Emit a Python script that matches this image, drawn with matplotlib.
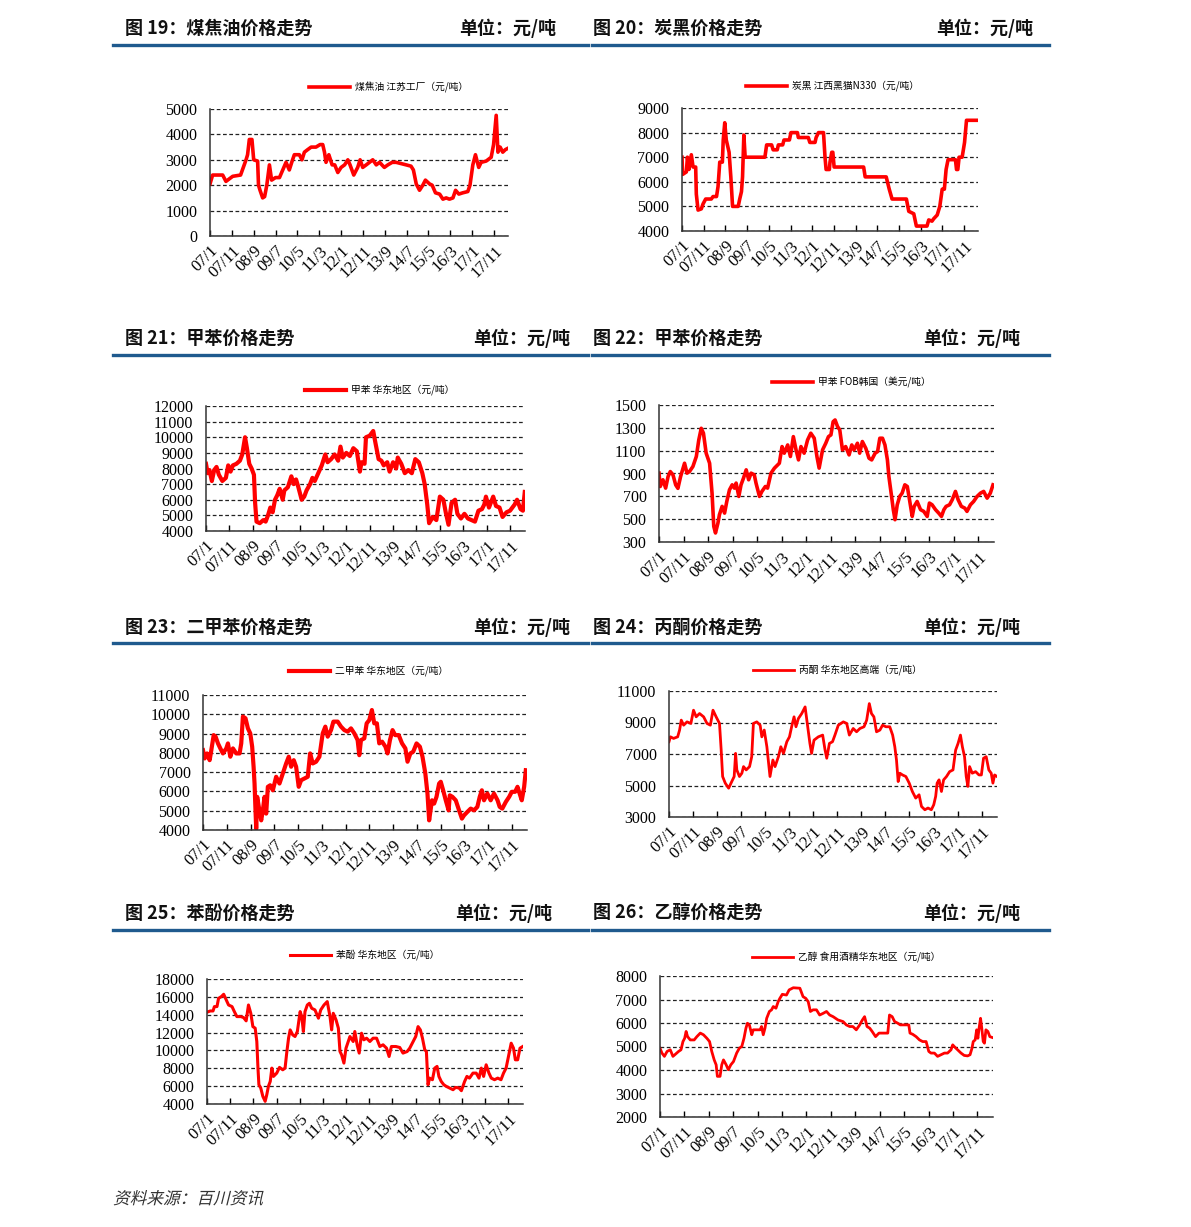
import matplotlib
matplotlib.use('Agg')
import matplotlib.pyplot as plt
from matplotlib.lines import Line2D
from matplotlib.font_manager import FontProperties
from matplotlib.textpath import TextPath
from matplotlib.patches import PathPatch
from matplotlib.transforms import Affine2D, ScaledTranslation

plt.rcParams['font.family'] = ['Noto Sans CJK SC', 'DejaVu Sans']

W, H = 1191, 1227

# x axis: months counted from 2007/1
TICK_MONTHS = [0, 10, 20, 30, 40, 50, 60, 70, 80, 90, 100, 110, 120, 130]
TICK_LABELS = ['07/1', '07/11', '08/9', '09/7', '10/5', '11/3', '12/1',
               '12/11', '13/9', '14/7', '15/5', '16/3', '17/1', '17/11']

# (month, price) pairs
COAL_TAR = [(0, 2050), (1.2, 2400), (5.8, 2400), (7.3, 2150), (10.4, 2350), (14, 2400),
            (16.5, 3000), (17.2, 3200), (18, 3800), (19.2, 3800), (20, 3000), (21.8, 2950),
            (22.2, 2000), (22.9, 1800), (24.1, 1500), (25, 1550), (26, 2000), (27.2, 2800),
            (28.2, 2200), (30, 2300), (31.8, 2300), (33.3, 2600), (34.8, 2900), (36.3, 2600),
            (37.6, 2950), (38.6, 3200), (40.9, 3200), (42.1, 3000), (43.2, 3300), (44.7, 3400),
            (46.3, 3500), (48.5, 3500), (50.4, 3600), (51.6, 3600), (52.4, 3300), (53.1, 2900),
            (54.4, 3200), (55.9, 2800), (57.1, 2800), (58.5, 2500), (60, 2700), (61.6, 2800),
            (63.1, 3000), (64.1, 2800), (65.8, 2400), (67.6, 2700), (68.7, 3000), (69.9, 2700),
            (71.5, 2800), (73, 2900), (74.5, 3000), (76.1, 2800), (77.6, 2900), (79.8, 2700),
            (81.4, 2800), (83.4, 2900), (85.2, 2900), (87.5, 2850), (89.8, 2800), (92, 2750),
            (93.1, 2600), (94.4, 2050), (95.9, 1800), (97.4, 2000), (98.6, 2200), (100.5, 2050),
            (101.7, 2000), (103.2, 1700), (105.1, 1650), (106.6, 1450), (108.1, 1500),
            (109.6, 1450), (111.2, 1500), (112.4, 1800), (113.9, 1650), (115.7, 1700),
            (118, 1750), (119, 2000), (120.3, 2800), (121.5, 3200), (123, 2700), (124.1, 2900),
            (126.4, 2950), (128.7, 3100), (129.8, 3600), (131, 4750), (131.8, 3300),
            (132.8, 3500), (134, 3300), (135.2, 3400), (136.3, 3450)]

CARBON_BLACK = [(0, 7000), (0.3, 6300), (2, 6400), (2.5, 7000), (3.2, 6500), (4.3, 7100),
                (5.1, 6600), (6.3, 6600), (6.6, 5500), (7.4, 4850), (8.9, 4900), (9.7, 5100),
                (10.9, 5300), (13.5, 5300), (14.3, 5400), (15.9, 5400), (16.6, 5800),
                (17.4, 6800), (18.6, 6800), (19, 7700), (19.7, 8400), (20.4, 7700), (21.7, 7200),
                (22.5, 6200), (23.3, 5000), (25.9, 5000), (26.6, 5300), (27.4, 5600),
                (27.9, 6200), (28.5, 7900), (29.1, 7000), (38.2, 7000), (39, 7500), (41.3, 7500),
                (42, 7300), (43.9, 7300), (44.4, 7500), (46.4, 7500), (47, 7700), (49.5, 7700),
                (50.2, 8000), (53.2, 8000), (53.6, 7800), (58.2, 7800), (58.9, 7600),
                (61.3, 7600), (61.8, 7800), (62.9, 8000), (65.2, 8000), (65.9, 7000),
                (66.4, 6500), (67.9, 6500), (68.2, 6800), (69, 7200), (69.5, 7200), (70.1, 6600),
                (83.7, 6600), (84.4, 6200), (94.1, 6200), (95.5, 5700), (96.8, 5300),
                (103.4, 5300), (104.5, 4800), (106.8, 4700), (108, 4200), (112.9, 4200),
                (113.7, 4450), (115.2, 4400), (116, 4500), (117.6, 4650), (118.8, 5000),
                (119.9, 5700), (120.9, 5700), (121.7, 6500), (122.6, 6900), (126, 6900),
                (126.5, 6500), (127.1, 6500), (127.7, 7000), (129.1, 7000), (130.2, 7600),
                (131.1, 8500), (136.5, 8500)]

TOLUENE_EC = [(0, 8300), (0.7, 7700), (1.5, 7900), (2.5, 7200), (3.5, 7900), (4.5, 8100),
              (5.5, 7600), (7, 7200), (8.5, 7400), (9.5, 8200), (10.5, 7800), (11.5, 8200),
              (13, 8300), (14.5, 8500), (15.5, 8900), (16.7, 10000), (17.5, 9300), (18.5, 8300),
              (19.5, 8000), (20.5, 7600), (21, 5800), (21.6, 4600), (23, 4500), (24.5, 4700),
              (25.5, 4600), (26.5, 5000), (27.5, 5500), (28.5, 5200), (29.5, 6000), (30.5, 6300),
              (31.5, 6700), (32.8, 6000), (33.5, 6600), (35, 6800), (36.5, 7500), (37.5, 7000),
              (38.5, 7300), (39.5, 6800), (40.9, 6000), (42, 6200), (43, 6600), (44.5, 7000),
              (45.5, 7400), (46.5, 7200), (48, 7700), (49.5, 8200), (51, 8900), (52, 8400),
              (53.5, 8600), (55, 8900), (56.5, 8500), (57.5, 9400), (58.5, 8700), (60, 9000),
              (61.5, 8800), (63, 9300), (64.5, 9100), (65.8, 7800), (66.5, 8400), (67.8, 8300),
              (68.4, 10000), (70, 10100), (71.5, 10400), (72.5, 9600), (73.8, 8600), (75, 8500),
              (76, 8200), (77.5, 8400), (78.5, 7800), (80, 8400), (81.3, 8000), (82, 8700),
              (83.5, 8300), (85, 7700), (86.5, 7900), (88, 7700), (89.5, 8600), (91, 8400),
              (92.5, 7700), (93.5, 7000), (94.6, 5700), (95.4, 4500), (97, 4900), (98.5, 4700),
              (100, 6200), (101.5, 6000), (102.5, 5200), (103.7, 4400), (105, 5800),
              (106.5, 6000), (107.5, 5100), (109, 4800), (110.5, 5100), (112, 4800),
              (113.5, 4700), (115, 4600), (116.5, 5300), (118, 5400), (119, 5700), (119.7, 6200),
              (121, 5500), (122.8, 6200), (124, 5600), (125.5, 5500), (126.8, 4900),
              (128.5, 5200), (130, 5300), (132, 5700), (133, 6000), (134.5, 5400),
              (135.5, 5300), (136.3, 6500)]

TOLUENE_FOB = [(0, 903), (0.5, 786), (1.6, 845), (2.7, 772), (3.7, 874), (4.6, 917),
               (5.7, 888), (6.8, 800), (7.7, 770), (8.8, 874), (10.4, 990), (11.4, 903),
               (12.4, 917), (13.8, 961), (15.2, 1049), (16.2, 1194), (17.2, 1296), (18.1, 1253),
               (19.2, 1078), (20.6, 990), (21.6, 728), (22.3, 437), (23, 379), (24, 466),
               (24.6, 539), (25.7, 612), (26.7, 553), (27.6, 655), (28.7, 757), (29.8, 801),
               (30.7, 772), (31.4, 816), (32.5, 699), (33.4, 801), (34.4, 859), (35.5, 932),
               (36.5, 845), (37.5, 903), (38.8, 888), (39.5, 816), (40.9, 699), (41.9, 743),
               (43.3, 786), (44.2, 772), (45.6, 903), (47, 947), (49, 990), (50.1, 1136),
               (51, 1078), (52.4, 1150), (53.5, 1049), (54.7, 1223), (55.8, 1107), (56.8, 1019),
               (57.8, 1136), (59.1, 1078), (60.5, 1194), (61.8, 1253), (63.2, 1209), (64.3, 1049),
               (65.2, 947), (66.6, 1107), (67.9, 1165), (69, 1223), (70, 1238), (70.9, 1354),
               (71.7, 1369), (72.7, 1311), (73.6, 1282), (74.7, 1107), (76, 1136), (77.4, 1063),
               (78.5, 1150), (79.4, 1107), (80.8, 1165), (81.7, 1078), (82.8, 1180), (84.2, 1121),
               (85.5, 1034), (86.6, 1019), (88, 1078), (89, 1092), (89.9, 1209), (91, 1209),
               (92, 1150), (93, 1019), (93.6, 874), (94.7, 699), (95.4, 583), (96.1, 495),
               (97, 626), (98, 699), (99, 728), (100.1, 801), (101.1, 786), (102, 670),
               (103.1, 524), (103.9, 612), (105.1, 655), (106.5, 583), (107.8, 568), (109.2, 524),
               (110.1, 641), (111.2, 626), (112.6, 583), (113.9, 553), (115, 524), (116, 583),
               (116.9, 612), (118.3, 626), (119.4, 670), (120.7, 743), (121.8, 670), (123.1, 612),
               (124.5, 597), (125.4, 568), (126.8, 626), (128.1, 655), (129.5, 699), (130.9, 728),
               (132.2, 743), (133.6, 684), (134.9, 728), (136, 801)]

XYLENE = [(0, 8140), (0.7, 7710), (1.7, 7970), (2.8, 7620), (3.5, 8140), (4.5, 8920),
          (5.3, 8840), (6.3, 8490), (7.3, 8230), (8.4, 7970), (9.8, 8230), (10.5, 8490),
          (11.5, 7800), (12.6, 8230), (14, 7970), (15.4, 7970), (16.1, 8490), (16.8, 9880),
          (17.9, 9790), (18.9, 9270), (19.9, 9010), (20.7, 8320), (21.3, 7280), (21.7, 6410),
          (22.1, 5020), (22.4, 4070), (22.8, 5720), (23.5, 5200), (24.5, 4500), (25.2, 5020),
          (25.9, 5720), (26.6, 4850), (27.3, 6240), (28.3, 6320), (29.4, 6060), (30.8, 6760),
          (32.2, 6410), (33.6, 6930), (35, 7450), (36.1, 7800), (37.1, 7280), (38.2, 7620),
          (39.2, 7280), (40.3, 6240), (41.3, 6580), (42.7, 6670), (44.1, 6760), (45.1, 7970),
          (46.2, 7450), (47.6, 7540), (49, 7800), (50.4, 9010), (51.5, 9360), (52.5, 8840),
          (53.9, 9180), (54.9, 9620), (56.7, 9620), (58.1, 9360), (59.5, 9180), (60.9, 9100),
          (62.3, 9270), (63.7, 9010), (65.1, 8660), (65.8, 7880), (66.5, 8660), (67.9, 8750),
          (68.9, 9530), (70, 9700), (71.1, 10220), (72.1, 9530), (73.2, 9530), (74.2, 8490),
          (75.4, 8580), (76.8, 8320), (77.7, 7970), (78.7, 8660), (79.8, 9180), (80.9, 8920),
          (82.4, 8920), (83.8, 8490), (85.2, 8230), (86.1, 7540), (87.3, 7970), (88.5, 8060),
          (89.9, 8490), (91.3, 8320), (92.4, 7800), (93.6, 6930), (94.5, 5890), (95.2, 4500),
          (96.4, 5540), (97.3, 5370), (98.3, 5720), (99.4, 6410), (100.1, 6500), (101.1, 6060),
          (102.2, 5540), (103.4, 5020), (103.9, 5800), (105, 5720), (106.4, 5540),
          (107.8, 5020), (109, 4590), (109.9, 4760), (111.3, 4940), (112.7, 5110),
          (114.1, 5020), (115.5, 5200), (116.5, 5720), (117.4, 6060), (118.3, 5540),
          (119.7, 5890), (121.1, 5540), (122.5, 5890), (124, 5540), (124.9, 5200),
          (126, 5110), (127.5, 5460), (128.9, 5720), (130, 5980), (131.4, 5980), (132.4, 6240),
          (133.3, 5890), (134.2, 5540), (135.2, 6240), (135.9, 7100)]

ACETONE = [(0, 7780), (0.6, 8090), (1.9, 7990), (3.6, 8090), (4.4, 8520), (5.1, 9150),
           (6.1, 8830), (7.5, 9040), (9.1, 8940), (10.2, 9780), (11.3, 9360), (12.7, 9570),
           (14.4, 9360), (15.8, 8940), (17.2, 8830), (18.3, 9780), (19.6, 9360), (21, 8940),
           (21.7, 7250), (22.3, 5570), (23.4, 5150), (24.8, 4830), (26.1, 5250), (27.1, 5570),
           (27.7, 7040), (28.2, 5990), (29.3, 5570), (30.3, 5780), (31, 6200), (32.1, 5990),
           (33.5, 6200), (34.4, 6830), (35.1, 8940), (36.5, 9040), (37.9, 8830), (38.6, 8090),
           (39.6, 8520), (40.7, 7460), (42, 5570), (43.2, 6620), (44.1, 6200), (45.5, 6830),
           (46.5, 7460), (47.6, 7040), (49, 7780), (50.1, 8090), (51, 8730), (52, 9360),
           (52.8, 8730), (53.8, 9250), (55.2, 9570), (56.6, 9990), (57.5, 8940), (58.6, 7670),
           (59.3, 7040), (60.3, 7880), (62.1, 8090), (63.9, 8200), (64.9, 7250), (65.6, 6730),
           (66.7, 7670), (68, 7780), (69, 8200), (70.4, 8830), (72.5, 9040), (73.9, 8940),
           (75, 8200), (76.6, 8620), (78, 8410), (79.4, 8620), (81.1, 8730), (82.2, 9150),
           (83.3, 10200), (84.2, 9570), (85.2, 9360), (86.3, 8410), (87.7, 8520), (88.8, 8830),
           (90.2, 8730), (91.8, 8730), (93, 8200), (93.9, 7460), (94.6, 6620), (95.3, 5250),
           (96, 5780), (97.1, 5670), (98.5, 5570), (99.9, 5150), (101.2, 4620), (102.6, 4200),
           (104, 4410), (105, 3670), (106.4, 3460), (107.7, 3570), (109.1, 3460), (110.1, 3780),
           (110.9, 4310), (111.5, 5150), (112.3, 5360), (113.3, 4620), (114.2, 5360),
           (115.4, 5570), (116.7, 5880), (118.1, 5990), (119.2, 7250), (120.2, 7670),
           (121.2, 8200), (122, 7460), (122.9, 6830), (123.6, 5570), (124.3, 4940), (125, 6200),
           (126.1, 5780), (127.5, 5880), (128.9, 5670), (129.9, 5670), (130.8, 6730),
           (131.9, 6830), (133, 5990), (134, 5780), (134.7, 5150), (135.4, 5670), (136.4, 5570)]

PHENOL = [(0, 14280), (1.4, 14420), (2.6, 14420), (3.2, 14910), (4.3, 14910), (5, 15840),
          (6.2, 16030), (7.2, 16290), (8.3, 15650), (9.3, 15090), (10.8, 14910), (11.8, 14350),
          (12.9, 13790), (14.6, 13790), (15.8, 13680), (16.9, 13310), (17.9, 15090),
          (18.9, 14160), (19.8, 12670), (20.8, 12490), (21.5, 11000), (22, 8020), (22.4, 6160),
          (23.2, 5790), (24.1, 4860), (25.1, 4300), (25.8, 5040), (26.5, 5970), (27.3, 6530),
          (28, 8020), (28.7, 7090), (30.1, 7460), (31.3, 8100), (32.7, 7830), (33.7, 8020),
          (34.4, 9700), (35.2, 11370), (35.9, 12300), (37, 11740), (38, 11560), (39, 12120),
          (40.2, 14350), (40.9, 13790), (41.6, 12120), (42.3, 14350), (43.3, 15090),
          (44.2, 15280), (45.2, 14720), (46.6, 14540), (48.1, 13610), (49.1, 14540),
          (50.5, 15090), (51.9, 15470), (53.1, 13790), (53.8, 12300), (54.5, 14160),
          (55.7, 13420), (56.7, 12490), (57.4, 9880), (58.1, 9510), (59.1, 8580), (60, 10250),
          (61, 11000), (61.7, 11560), (63.1, 11000), (63.8, 12120), (64.8, 10630), (65.7, 9700),
          (66.7, 11930), (67.7, 11190), (68.9, 11370), (70.3, 11000), (71.7, 11370),
          (73.2, 11370), (74.6, 10440), (76, 10630), (77.5, 10250), (78.6, 9320), (79.6, 10440),
          (81.5, 10440), (83.2, 10330), (84.6, 9700), (86.4, 9880), (87.5, 10250), (89, 11000),
          (90.1, 11560), (91.1, 12670), (92.1, 12300), (93, 11370), (94, 10070), (94.7, 9880),
          (95.4, 6160), (96.1, 6900), (97.3, 6720), (98.3, 8020), (99.3, 8210), (100.1, 7090),
          (101.1, 6530), (102.2, 6160), (103.3, 5970), (104.7, 5790), (106.2, 5600),
          (107.3, 5860), (108.8, 5790), (109.8, 5490), (111.2, 6530), (112.2, 7090),
          (113.3, 6900), (114.8, 7460), (116.2, 7460), (117.4, 6900), (118.4, 8020),
          (119.4, 7090), (120.5, 8390), (121.7, 7460), (122.7, 6900), (124.1, 6720),
          (125.5, 6900), (126.9, 6720), (128, 7460), (129.1, 8020), (130.3, 9510),
          (131.3, 10810), (132.3, 10250), (133.1, 8950), (134.1, 8950), (135.1, 10250),
          (136.3, 10440)]

ETHANOL = [(0, 4930), (0.8, 4720), (1.8, 4580), (2.9, 4790), (4.2, 4860), (5.3, 4580),
           (6.3, 4670), (7.6, 4790), (8.6, 4860), (9.4, 5210), (10.1, 5350), (10.7, 5640),
           (11.3, 5420), (12.4, 5280), (14, 5280), (15.1, 5420), (16.5, 5570), (17.8, 5500),
           (19.2, 5350), (20.3, 5210), (21.2, 4790), (22.2, 4430), (23, 4220), (23.5, 3730),
           (24.6, 3730), (25.3, 4220), (26, 4430), (27.1, 4220), (28, 4010), (29, 4220),
           (30.1, 4360), (31.4, 4720), (32.5, 4930), (33.5, 5000), (34.4, 5350), (35.2, 5780),
           (35.8, 5990), (36.6, 5920), (37.6, 5500), (38.2, 5710), (39.6, 5710), (41, 5710),
           (41.6, 5850), (42.3, 5500), (43, 5780), (43.7, 6200), (44.8, 6490), (45.7, 6560),
           (46.4, 6700), (47.5, 6630), (48.4, 6910), (49.1, 7050), (50.1, 7220), (51.8, 7190),
           (52.9, 7410), (54.6, 7500), (57.3, 7480), (58.6, 7120), (59.7, 7050), (60.7, 6910),
           (61.6, 6490), (62.7, 6560), (64.1, 6560), (65.4, 6340), (66.8, 6410), (68.2, 6490),
           (69.5, 6340), (70.9, 6270), (72.9, 6130), (75, 6060), (76.3, 5920), (77.7, 5850),
           (79, 5850), (80.4, 5710), (81.8, 5920), (82.9, 6130), (83.8, 6270), (84.8, 5850),
           (85.9, 5780), (86.9, 5640), (88.3, 5420), (89.7, 5570), (91.3, 5570), (93.3, 5570),
           (94, 6340), (95.1, 6270), (96.1, 6060), (97.4, 5990), (98.4, 5920), (100.1, 5920),
           (101.9, 5920), (102.4, 5570), (103.5, 5520), (104.9, 5420), (106.3, 5280),
           (107.6, 5210), (109, 5210), (110.1, 4790), (111, 4720), (112.4, 4720), (113.7, 4580),
           (115.1, 4650), (116.5, 4720), (117.8, 4720), (119.2, 4860), (119.9, 5070),
           (120.5, 5000), (121.9, 4860), (123.3, 4720), (124.6, 4620), (126, 4600),
           (127, 4650), (127.8, 4930), (128.3, 5210), (129.1, 5280), (129.7, 5710),
           (130.2, 5350), (130.7, 5780), (131.3, 6200), (131.8, 5780), (132.4, 5210),
           (132.9, 5140), (133.5, 5710), (134.3, 5640), (135.1, 5420), (136.2, 5380)]

# layout in pixels of the reference: plot box (left, top, right, bottom), header row y,
# header left x, unit right x, rule y, rule x-range, legend anchor (x, y)
PANELS = [
    dict(data=COAL_TAR, box=(210, 109, 508, 236), ylim=(0, 5000), step=1000,
         title='图 19：煤焦油价格走势', unit_r=556, hy=28, hx=125, ry=45, rx=(113, 588),
         leg='煤焦油 江苏工厂（元/吨）', lpos=(309, 87), lw=2.6),
    dict(data=CARBON_BLACK, box=(682, 108, 978, 231), ylim=(4000, 9000), step=1000,
         title='图 20：炭黑价格走势', unit_r=1033, hy=28, hx=593, ry=45, rx=(592, 1049),
         leg='炭黑 江西黑猫N330（元/吨）', lpos=(746, 86), lw=2.6),
    dict(data=TOLUENE_EC, box=(206, 406, 525, 531), ylim=(4000, 12000), step=1000,
         title='图 21：甲苯价格走势', unit_r=570, hy=338, hx=125, ry=355, rx=(113, 588),
         leg='甲苯 华东地区（元/吨）', lpos=(305, 390), lw=3.0),
    dict(data=TOLUENE_FOB, box=(659, 405, 994, 542), ylim=(300, 1500), step=200,
         title='图 22：甲苯价格走势', unit_r=1020, hy=338, hx=593, ry=355, rx=(592, 1049),
         leg='甲苯 FOB韩国（美元/吨）', lpos=(772, 382), lw=2.6),
    dict(data=XYLENE, box=(203, 695, 527, 830), ylim=(4000, 11000), step=1000,
         title='图 23：二甲苯价格走势', unit_r=570, hy=627, hx=125, ry=643, rx=(113, 588),
         leg='二甲苯 华东地区（元/吨）', lpos=(289, 671), lw=3.0),
    dict(data=ACETONE, box=(669, 691, 997, 817), ylim=(3000, 11000), step=2000,
         title='图 24：丙酮价格走势', unit_r=1020, hy=627, hx=593, ry=643, rx=(592, 1049),
         leg='丙酮 华东地区高端（元/吨）', lpos=(753, 670), lw=2.0),
    dict(data=PHENOL, box=(207, 979, 523, 1104), ylim=(4000, 18000), step=2000,
         title='图 25：苯酚价格走势', unit_r=552, hy=913, hx=125, ry=930, rx=(113, 588),
         leg='苯酚 华东地区（元/吨）', lpos=(290, 955), lw=2.2),
    dict(data=ETHANOL, box=(660, 976, 993, 1117), ylim=(2000, 8000), step=1000,
         title='图 26：乙醇价格走势', unit_r=1020, hy=913, hx=593, ry=930, rx=(592, 1049),
         leg='乙醇 食用酒精华东地区（元/吨）', lpos=(752, 957), lw=2.0),
]


def fx(px):
    return px / W


def fy(py):
    return 1 - py / H


def draw_panel(fig, p):
    l, t, r, b = p['box']
    ax = fig.add_axes([fx(l), fy(b), fx(r) - fx(l), fy(t) - fy(b)])
    months = [m for m, v in p['data']]
    values = [v for m, v in p['data']]
    line, = ax.plot(months, values, color='#ff0000', lw=p['lw'], solid_joinstyle='round')
    ax.set_xlim(0, 136.4)
    lo, hi = p['ylim']
    ax.set_ylim(lo, hi)
    ax.set_yticks(list(range(lo, hi + 1, p['step'])))
    ax.set_yticklabels([str(v) for v in range(lo, hi + 1, p['step'])],
                       fontfamily='Liberation Serif', fontsize=11.5)
    ax.set_xticks(TICK_MONTHS)
    ax.set_xticklabels(TICK_LABELS, rotation=45, ha='right', va='top',
                       rotation_mode='anchor', fontfamily='Liberation Serif', fontsize=12)
    shift = ScaledTranslation(3 / 100, 0, fig.dpi_scale_trans)
    for lbl in ax.get_xticklabels():
        lbl.set_transform(lbl.get_transform() + shift)
    ax.yaxis.grid(True, linestyle=(0, (3, 2)), color='#222222', lw=0.9)
    ax.set_axisbelow(True)
    for s in ['top', 'right']:
        ax.spines[s].set_visible(False)
    for s in ['left', 'bottom']:
        ax.spines[s].set_linewidth(1.1)
        ax.spines[s].set_color('#333333')
    ax.tick_params(axis='y', length=0, pad=9)
    ax.tick_params(axis='x', direction='in', length=4, width=1, pad=5)
    ax.set_facecolor('none')

    lx, ly = p['lpos']
    ax.legend([line], [p['leg']], loc='center left', bbox_to_anchor=(fx(lx), fy(ly)),
              bbox_transform=fig.transFigure, frameon=False, fontsize=7,
              handlelength=4.2, handletextpad=0.5, borderpad=0, borderaxespad=0)

    fig.text(fx(p['hx']), fy(p['hy']), p['title'], fontsize=13, fontweight='bold',
             va='center', ha='left', color='#111111')
    fig.text(fx(p['unit_r']), fy(p['hy']), '单位：元/吨', fontsize=13, fontweight='bold',
             va='center', ha='right', color='#111111')
    x0, x1 = p['rx']
    fig.add_artist(Line2D([fx(x0), fx(x1)], [fy(p['ry']), fy(p['ry'])],
                          transform=fig.transFigure, color='#1f5a8e', lw=2.4))


def main():
    fig = plt.figure(figsize=(W / 100, H / 100), dpi=100)
    fig.patch.set_facecolor('white')
    for p in PANELS:
        draw_panel(fig, p)

    # slanted source note
    fp = FontProperties(family='Noto Sans CJK SC', size=12)
    tp = TextPath((0, 0), '资料来源：百川资讯', prop=fp)
    tr = (Affine2D().skew_deg(14, 0).scale(1 / 72)
          .translate(113 / 100, (H - 1204) / 100) + fig.dpi_scale_trans)
    fig.add_artist(PathPatch(tp, transform=tr, color='#333333', lw=0))

    fig.savefig('out.png', dpi=100, facecolor='white')
    plt.close(fig)


if __name__ == '__main__':
    main()
